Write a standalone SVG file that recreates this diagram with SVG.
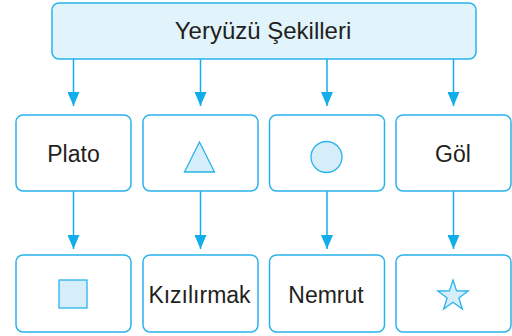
<svg xmlns="http://www.w3.org/2000/svg" width="512" height="336" viewBox="0 0 512 336">
<defs>
<marker id="ah" markerWidth="14" markerHeight="12" refX="14" refY="6" orient="auto" markerUnits="userSpaceOnUse" viewBox="0 0 14 12">
<path d="M0,0 L14,6 L0,12 Z" fill="#12aee9"/>
</marker>
<style>
.box{fill:#fff;stroke:#29b3ea;stroke-width:1.5}
.top{fill:#e1f3fb;stroke:#29b3ea;stroke-width:1.5}
.shape{fill:#d6eefa;stroke:#29b3ea;stroke-width:1.3}
.lbl{font-family:"Liberation Sans",Arial,sans-serif;font-size:23px;fill:#231f20;text-anchor:middle}
.conn{stroke:#12aee9;stroke-width:1.5;fill:none}
</style>
</defs>
<rect width="512" height="336" fill="#fff"/>
<g id="connectors">
<line class="conn" x1="73.5" y1="59" x2="73.5" y2="106" marker-end="url(#ah)"/>
<line class="conn" x1="200.5" y1="59" x2="200.5" y2="106" marker-end="url(#ah)"/>
<line class="conn" x1="327" y1="59" x2="327" y2="106" marker-end="url(#ah)"/>
<line class="conn" x1="453.5" y1="59" x2="453.5" y2="106" marker-end="url(#ah)"/>
<line class="conn" x1="73.5" y1="191" x2="73.5" y2="249" marker-end="url(#ah)"/>
<line class="conn" x1="200.5" y1="191" x2="200.5" y2="249" marker-end="url(#ah)"/>
<line class="conn" x1="327" y1="191" x2="327" y2="249" marker-end="url(#ah)"/>
<line class="conn" x1="453.5" y1="191" x2="453.5" y2="249" marker-end="url(#ah)"/>
</g>
<g id="root">
<rect class="top" x="52" y="3" width="424" height="56" rx="7"/>
<text class="lbl" x="263" y="39" style="font-size:24px">Yeryüzü Şekilleri</text>
</g>
<g id="plato">
<rect class="box" x="16" y="115" width="115" height="76" rx="7"/>
<text class="lbl" x="73.5" y="162">Plato</text>
</g>
<g id="triangle">
<rect class="box" x="143" y="115" width="115" height="76" rx="7"/>
<polygon class="shape" points="199.5,142 214.5,172 184.5,172"/>
</g>
<g id="circle">
<rect class="box" x="269.5" y="115" width="115" height="76" rx="7"/>
<circle class="shape" cx="326.5" cy="157" r="15.5"/>
</g>
<g id="gol">
<rect class="box" x="396" y="115" width="115" height="76" rx="7"/>
<text class="lbl" x="453" y="162">Göl</text>
</g>
<g id="square">
<rect class="box" x="16" y="255" width="115" height="77" rx="7"/>
<rect class="shape" x="59" y="280" width="28" height="28"/>
</g>
<g id="kizilirmak">
<rect class="box" x="143" y="255" width="115" height="77" rx="7"/>
<text class="lbl" x="199.5" y="303">Kızılırmak</text>
</g>
<g id="nemrut">
<rect class="box" x="269.5" y="255" width="115" height="77" rx="7"/>
<text class="lbl" x="326" y="303">Nemrut</text>
</g>
<g id="star">
<rect class="box" x="396" y="255" width="115" height="77" rx="7"/>
<polygon class="shape" points="453,280 456.6,290.9 468.2,291 458.9,297.9 462.4,309 453,302.3 443.6,309 447.1,297.9 437.8,291 449.4,290.9"/>
</g>
</svg>
